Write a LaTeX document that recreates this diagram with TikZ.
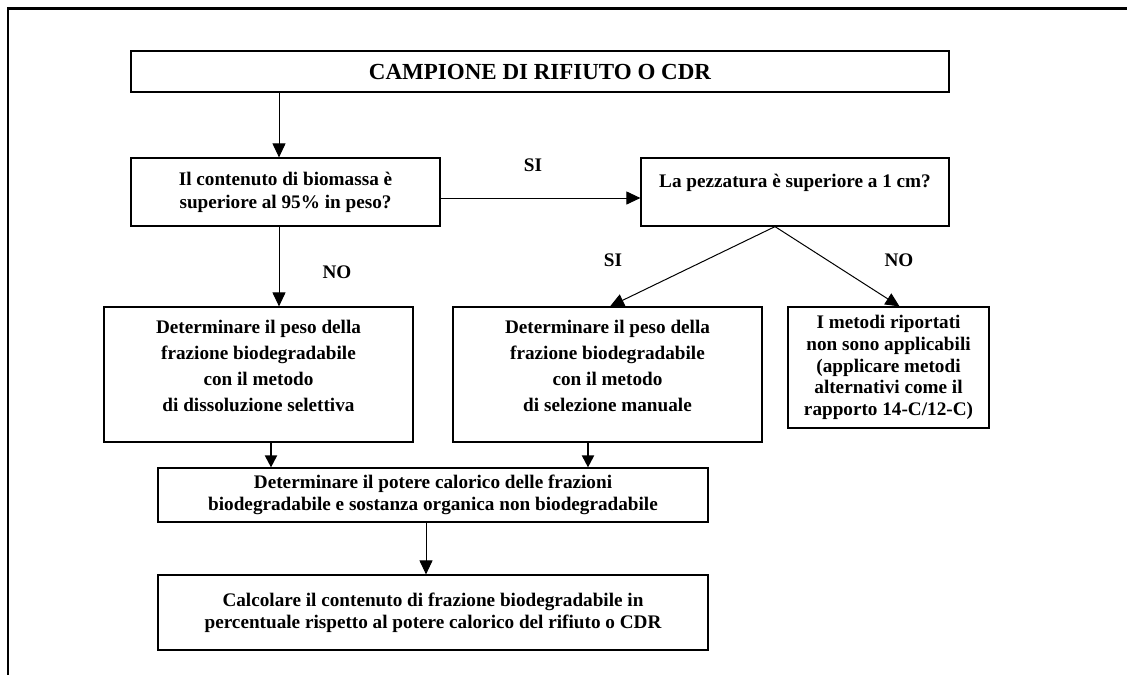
\documentclass[tikz,border=0pt]{standalone}
\usepackage{fontspec}
\setmainfont{Liberation Serif}
\usetikzlibrary{arrows.meta}

\begin{document}
\begin{tikzpicture}[x=0.5pt,y=-0.5pt]
% Define styles
\tikzstyle{process} = [rectangle, draw=black, line width=0.6pt, inner sep=0pt, align=center, font=\bfseries\fontsize{9.6}{11}\selectfont]
\tikzstyle{answer} = [font=\bfseries\fontsize{9.6}{11}\selectfont]
\tikzstyle{arrow} = [line width=0.5pt,-{Triangle[width=6.5pt,length=7pt]}]
\tikzstyle{thickarrow} = [line width=1pt,-{Triangle[width=6pt,length=6pt]}]

% Page frame
\useasboundingbox (0,0) rectangle (1127,675);
\draw [line width=1.5pt] (7,8) -- (1127,8);
\draw [line width=0.6pt] (8,8) -- (8,675);

% Draw nodes
\node (campione) [process, minimum width=409pt, minimum height=20.5pt, font=\bfseries\fontsize{11.5}{13}\selectfont] at (540,71.5) {CAMPIONE DI RIFIUTO O CDR};
\node (biomassa) [process, minimum width=154.5pt, minimum height=34pt, font=\bfseries\fontsize{9.6}{11.5}\selectfont] at (285.5,192) {Il contenuto di biomassa è\\superiore al 95\% in peso?};
\node (pezzatura) [process, minimum width=154pt, minimum height=34pt] at (795,192) {La pezzatura è superiore a 1 cm?\\\mbox{}};
\node (dissoluzione) [process, minimum width=154.5pt, minimum height=67.5pt, font=\bfseries\fontsize{9.6}{13}\selectfont] at (258.5,374.5) {Determinare il peso della\\frazione biodegradabile\\con il metodo\\di dissoluzione selettiva\\[-4pt]\mbox{}};
\node (selezione) [process, minimum width=154.5pt, minimum height=67.5pt, font=\bfseries\fontsize{9.6}{13}\selectfont] at (607.5,374.5) {Determinare il peso della\\frazione biodegradabile\\con il metodo\\di selezione manuale\\[-4pt]\mbox{}};
\node (alternativi) [process, minimum width=100.5pt, minimum height=60.5pt, font=\bfseries\fontsize{9.6}{10.8}\selectfont] at (888.5,367.5) {I metodi riportati\\non sono applicabili\\(applicare metodi\\alternativi come il\\rapporto 14-C/12-C)};
\node (potere) [process, minimum width=275pt, minimum height=27pt] at (433,495) {Determinare il potere calorico delle frazioni\\biodegradabile e sostanza organica non biodegradabile};
\node (calcolo) [process, minimum width=275pt, minimum height=37.5pt] at (433,612.5) {Calcolare il contenuto di frazione biodegradabile in\\percentuale rispetto al potere calorico del rifiuto o CDR};

% Answers
\node (si1) [answer] at (533,165) {SI};
\node (no1) [answer] at (337,272) {NO};
\node (si2) [answer] at (613,260) {SI};
\node (no2) [answer] at (899,260) {NO};

% Arrow ends
\coordinate (intop) at ([xshift=-3.25pt]biomassa.north);
\coordinate (outbot) at ([xshift=-3.25pt]biomassa.south);
\coordinate (outeast) at ([yshift=-3pt]biomassa.east);
\coordinate (fork) at ([xshift=-10pt]pezzatura.south);
\coordinate (toalt) at ([xshift=5.5pt]alternativi.north);
\coordinate (dissout) at ([xshift=6.25pt]dissoluzione.south);
\coordinate (selout) at ([xshift=-9.75pt]selezione.south);
\coordinate (potout) at ([xshift=-3.5pt]potere.south);

% Draw arrows
\draw [arrow] (campione.south -| intop) -- (intop);
\draw [arrow] (outeast) -- (outeast -| pezzatura.west);
\draw [arrow] (outbot) -- (outbot |- dissoluzione.north);
\draw [arrow] (fork) -- ([xshift=1.25pt]selezione.north);
\draw [arrow] (fork) -- (toalt);
\draw [thickarrow] (dissout) -- (dissout |- potere.north);
\draw [thickarrow] (selout) -- (selout |- potere.north);
\draw [arrow] (potout) -- (potout |- calcolo.north);

\end{tikzpicture}
\end{document}
